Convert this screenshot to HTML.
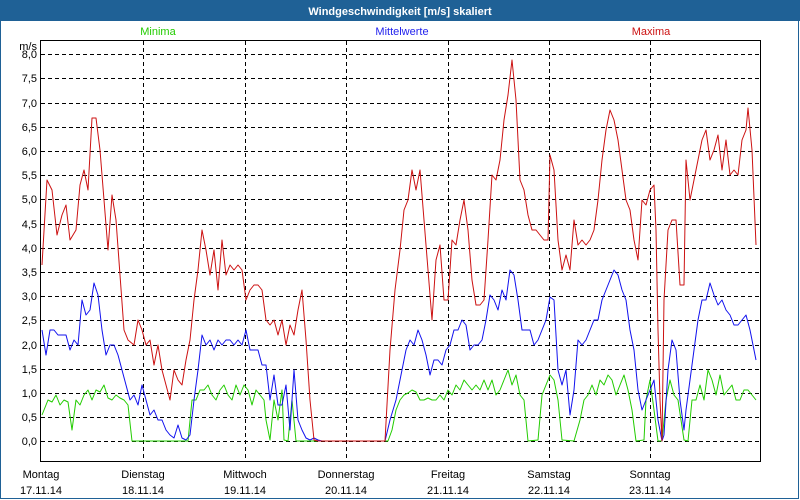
<!DOCTYPE html>
<html><head><meta charset="utf-8"><style>
html,body{margin:0;padding:0;background:#fff}
svg{display:block}
text{font-family:"Liberation Sans",sans-serif;font-size:11px}
</style></head><body>
<svg width="800" height="500" xmlns="http://www.w3.org/2000/svg">
<rect x="0" y="0" width="800" height="500" fill="#fff"/>
<rect x="0" y="0" width="800" height="21" fill="#1f6196"/>
<rect x="0.5" y="20.5" width="798" height="478" fill="none" stroke="#1f6196" stroke-width="1"/>
<text x="400" y="15" text-anchor="middle" fill="#fff" font-weight="bold" style="font-size:11px">Windgeschwindigkeit [m/s] skaliert</text>
<text x="158" y="35" text-anchor="middle" fill="#22cc00">Minima</text>
<text x="402" y="35" text-anchor="middle" fill="#2222ee">Mittelwerte</text>
<text x="651" y="35" text-anchor="middle" fill="#cc1111">Maxima</text>
<g stroke="#000" stroke-dasharray="4,3" stroke-width="1">
<line x1="41" x2="760" y1="54.5" y2="54.5"/><line x1="41" x2="760" y1="78.5" y2="78.5"/><line x1="41" x2="760" y1="103.5" y2="103.5"/><line x1="41" x2="760" y1="127.5" y2="127.5"/><line x1="41" x2="760" y1="151.5" y2="151.5"/><line x1="41" x2="760" y1="175.5" y2="175.5"/><line x1="41" x2="760" y1="199.5" y2="199.5"/><line x1="41" x2="760" y1="224.5" y2="224.5"/><line x1="41" x2="760" y1="248.5" y2="248.5"/><line x1="41" x2="760" y1="272.5" y2="272.5"/><line x1="41" x2="760" y1="296.5" y2="296.5"/><line x1="41" x2="760" y1="320.5" y2="320.5"/><line x1="41" x2="760" y1="345.5" y2="345.5"/><line x1="41" x2="760" y1="369.5" y2="369.5"/><line x1="41" x2="760" y1="393.5" y2="393.5"/><line x1="41" x2="760" y1="417.5" y2="417.5"/><line x1="41" x2="760" y1="441.5" y2="441.5"/>
<line x1="143.5" x2="143.5" y1="41" y2="461"/><line x1="245.5" x2="245.5" y1="41" y2="461"/><line x1="346.5" x2="346.5" y1="41" y2="461"/><line x1="448.5" x2="448.5" y1="41" y2="461"/><line x1="549.5" x2="549.5" y1="41" y2="461"/><line x1="650.5" x2="650.5" y1="41" y2="461"/>
</g>
<g fill="#000" text-anchor="end">
<text x="37" y="50">m/s</text>
<text x="37" y="58">8,0</text><text x="37" y="82">7,5</text><text x="37" y="107">7,0</text><text x="37" y="131">6,5</text><text x="37" y="155">6,0</text><text x="37" y="179">5,5</text><text x="37" y="203">5,0</text><text x="37" y="228">4,5</text><text x="37" y="252">4,0</text><text x="37" y="276">3,5</text><text x="37" y="300">3,0</text><text x="37" y="324">2,5</text><text x="37" y="349">2,0</text><text x="37" y="373">1,5</text><text x="37" y="397">1,0</text><text x="37" y="421">0,5</text><text x="37" y="445">0,0</text>
</g>
<g fill="#000" text-anchor="middle">
<text x="41" y="478" text-anchor="middle">Montag</text><text x="41" y="494">17.11.14</text>
<text x="143" y="478">Dienstag</text><text x="143" y="494">18.11.14</text>
<text x="245" y="478">Mittwoch</text><text x="245" y="494">19.11.14</text>
<text x="346" y="478">Donnerstag</text><text x="346" y="494">20.11.14</text>
<text x="448" y="478">Freitag</text><text x="448" y="494">21.11.14</text>
<text x="549" y="478">Samstag</text><text x="549" y="494">22.11.14</text>
<text x="650" y="478">Sonntag</text><text x="650" y="494">23.11.14</text>
</g>
<g fill="none" stroke-width="1" stroke-linejoin="round">
<polyline stroke="#22cc00" points="42,415 48,400 52,402 56,395 60,405 64,400 68,402 72,430 76,400 80,405 84,395 88,390 92,400 96,390 100,392 104,385 108,398 112,400 116,395 120,398 124,400 128,405 132,441 188,441 192,400 196,400 200,390 204,390 208,385 212,395 216,400 220,390 224,385 228,395 232,400 236,385 240,395 244,385 248,390 252,405 256,390 260,395 264,400 266,420 270,440 274,400 278,420 282,390 284,440 288,441 292,400 296,441 388,441 392,430 396,410 400,400 404,395 408,393 412,390 416,392 420,400 424,400 428,398 432,400 436,400 440,395 444,400 448,390 452,395 456,385 460,390 464,380 468,385 472,390 476,385 480,390 484,380 488,390 492,380 496,395 500,390 504,380 508,370 512,385 516,375 520,395 524,400 528,441 538,440 542,395 546,385 550,375 554,380 558,400 562,440 574,441 580,420 584,400 588,395 592,385 596,395 600,380 604,385 608,375 612,380 616,395 620,385 624,375 628,390 632,410 636,441 644,440 646,400 650,380 654,410 658,441 662,441 666,400 670,380 674,395 678,400 684,440 688,441 692,400 696,400 700,385 704,400 708,370 712,380 716,395 720,375 724,395 728,390 732,385 736,400 740,400 744,390 748,390 752,395 756,400"/>
<polyline stroke="#1111ee" points="42,330 46,355 50,330 54,330 58,335 62,335 66,335 70,350 74,340 78,345 82,300 86,315 90,310 94,283 98,295 102,330 106,355 110,345 114,345 118,355 122,370 126,385 130,400 134,395 138,405 142,385 146,400 150,415 154,410 158,420 162,420 166,430 170,435 174,438 178,425 182,438 186,440 190,435 194,400 198,370 202,335 206,345 210,340 214,350 218,340 222,345 226,340 230,340 234,345 238,340 242,345 246,330 250,350 254,350 258,350 262,365 266,365 270,400 274,375 278,405 282,405 286,385 290,430 294,370 298,420 302,430 306,438 310,440 314,438 318,440 322,441 385,441 390,420 396,400 400,380 406,350 410,340 414,345 418,330 422,340 426,355 430,375 434,360 438,360 442,365 446,350 450,345 454,330 458,330 462,320 466,325 470,350 474,345 478,345 482,340 486,320 490,295 494,300 498,310 502,290 506,300 510,270 514,275 518,300 522,330 526,330 530,330 534,345 538,340 542,330 546,320 550,297 554,300 558,370 562,385 566,370 570,415 574,390 578,340 582,345 586,340 590,330 594,320 598,320 602,300 606,290 610,280 614,270 618,275 622,290 626,300 630,330 634,350 638,390 642,410 646,400 650,390 654,380 658,420 662,441 664,435 668,370 672,340 676,350 680,400 684,430 686,410 690,380 694,350 698,320 702,300 706,300 710,283 714,295 718,305 722,300 726,310 730,315 734,325 738,325 742,320 746,315 750,330 756,360"/>
<polyline stroke="#cc1111" points="42,265 47,180 52,190 57,235 62,215 66,205 70,240 76,230 80,185 84,170 88,190 92,118 96,118 100,150 104,200 108,250 112,195 116,220 120,275 124,330 128,340 134,345 138,320 142,330 146,345 150,340 154,365 158,345 162,370 166,385 170,400 174,370 178,380 182,385 186,360 190,340 194,300 198,270 202,230 206,250 210,275 214,250 218,290 222,240 226,275 230,265 234,270 238,265 242,270 246,300 250,290 254,285 258,285 262,290 266,320 270,325 274,320 278,335 282,320 286,345 290,325 294,335 298,310 302,290 306,340 310,400 314,440 318,441 385,441 390,350 395,290 400,250 404,210 408,200 412,170 416,190 420,170 424,220 428,270 432,320 436,260 440,245 444,300 448,300 452,240 456,245 460,220 464,200 468,230 472,280 476,305 480,305 484,300 488,240 492,175 496,180 500,160 504,120 508,95 512,60 516,100 520,180 524,190 528,215 532,230 536,230 540,235 544,240 548,240 550,155 554,170 558,240 562,270 566,255 570,270 574,220 578,245 582,240 586,245 590,240 594,230 598,200 602,160 606,130 610,110 614,120 618,140 622,170 626,200 630,210 634,240 638,260 642,200 646,205 650,190 654,185 656,230 658,330 660,400 662,441 664,300 668,230 672,220 676,220 680,285 684,285 686,160 690,200 694,180 698,160 702,140 706,130 710,160 714,150 718,135 722,170 726,140 730,175 734,170 738,175 742,140 746,130 748,108 752,150 756,245"/>
</g>
<rect x="40.5" y="40.5" width="720" height="421" fill="none" stroke="#000" stroke-width="1"/>
</svg>
</body></html>
